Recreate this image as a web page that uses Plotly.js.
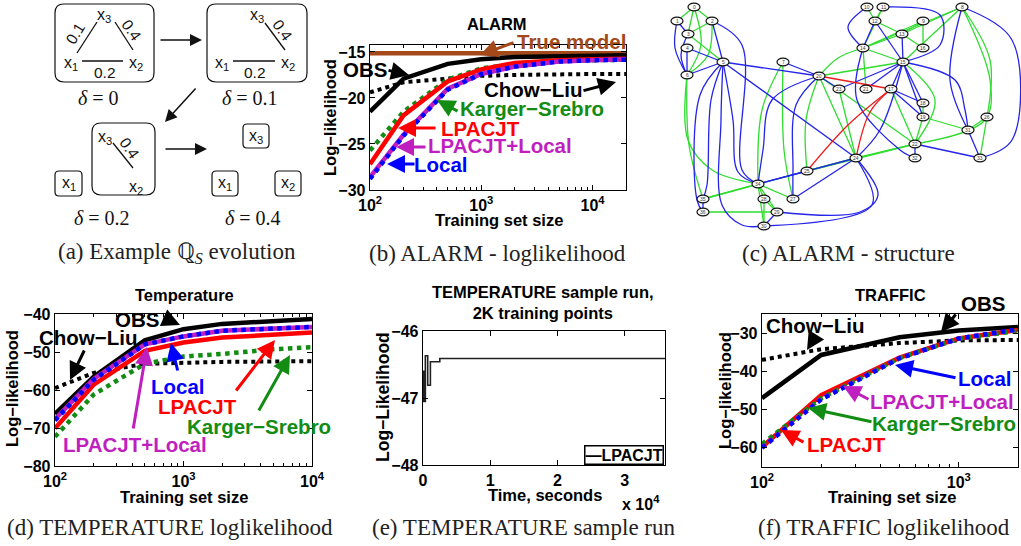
<!DOCTYPE html>
<html><head><meta charset="utf-8">
<script src="https://cdn.plot.ly/plotly-3.0.1.min.js"></script>
<style>html,body{margin:0;padding:0;background:#fff;overflow:hidden}#chart{width:1021px;height:546px}</style>
</head><body><div id="chart"></div>
<script>
// ---------------- DATA ----------------
// (b) ALARM log-likelihood vs training set size
const alarmSizes = [100, 200, 500, 1000, 2000, 5000, 10000, 20000];
const alarmTrueModel = [-15.15, -15.15, -15.15, -15.15, -15.15, -15.15, -15.15, -15.15];
const alarmOBS = [-21.5, -17.9, -16.3, -15.8, -15.55, -15.45, -15.4, -15.35];
const alarmChowLiu = [-19.4, -18.3, -17.9, -17.6, -17.5, -17.4, -17.4, -17.4];
const alarmKargerSrebro = [-25.7, -21.5, -18.0, -16.8, -16.3, -16.0, -15.9, -15.85];
const alarmLPACJT = [-27.2, -21.9, -18.2, -16.9, -16.2, -15.9, -15.8, -15.75];
const alarmLPACJTLocal = [-28.6, -24.0, -19.0, -17.4, -16.6, -16.05, -15.9, -15.8];
const alarmLocal = [-28.8, -24.1, -19.1, -17.4, -16.6, -16.05, -15.9, -15.85];

// (d) TEMPERATURE log-likelihood
const tempSizes = [100, 200, 500, 1000, 2000, 5000, 10000];
const tempOBS = [-66.3, -56.5, -46.9, -44.0, -42.6, -41.8, -41.3];
const tempChowLiu = [-59.5, -55.5, -53.1, -52.8, -52.6, -52.5, -52.4];
const tempKargerSrebro = [-72.3, -61.2, -53.1, -51.2, -50.5, -49.3, -48.7];
const tempLPACJT = [-70.1, -58.6, -49.7, -47.5, -46.2, -45.3, -44.9];
const tempLPACJTLocal = [-67.7, -57.1, -48.0, -45.9, -44.4, -43.7, -43.4];
const tempLocal = [-68.0, -57.3, -48.0, -45.9, -44.4, -43.7, -43.4];

// (e) TEMPERATURE sample run (step curve)
const runTime = [0, 60, 150, 350, 700, 1100, 2500, 36000];
const runLogLik = [-47.05, -46.6, -47.05, -46.37, -46.81, -46.46, -46.41, -46.41];

// (f) TRAFFIC log-likelihood
const trafSizes = [100, 200, 500, 1000, 2000];
const trafOBS = [-47.0, -35.7, -31.1, -29.3, -28.4];
const trafChowLiu = [-37.0, -34.2, -32.6, -31.9, -31.8];
const trafKargerSrebro = [-59.0, -47.0, -36.5, -31.5, -29.4];
const trafLPACJT = [-59.8, -46.2, -36.4, -31.4, -29.2];
const trafLPACJTLocal = [-59.9, -47.2, -36.5, -31.4, -29.1];
const trafLocal = [-60.0, -47.3, -36.6, -31.4, -29.0];

// (c) ALARM structure graph
const gNodeLabels = ['0','1','2','3','4','5','6','7','10','11','12','9','13','14','16','8','15','20','23','21','17','18','19','26','31','22','24','32','33','25','34','35','28','27','36','29','30'];
const gNodeX = [694,677,712,688,687,723,687,783,867,883,875,923,902,863,923,962,903,819,839,866,891,923,923,987,968,915,856,915,980,807,758,703,764,793,703,777,764];
const gNodeY = [7,21,21,34,48,62,75,62,7,7,21,21,34,48,48,7,62,76,89,89,89,103,117,117,130,144,158,158,158,171,184,199,199,199,212,212,226];
const gEdges = [
 ['0','1','g'],['0','2','g'],['0','3','g'],['0','6','g',[[701,45]]],
 ['1','3','b'],['1','6','b',[[675,48]]],
 ['2','3','g'],['2','6','g',[[708,55]]],['2','5','b'],['2','34','b',[[742,45],[742,170]]],
 ['3','5','g'],['3','6','b',[[681,55]]],
 ['4','6','b'],['4','5','b'],['5','6','b'],
 ['5','20','b'],['5','24','b'],
 ['5','34','b',[[733,120],[738,172]]],
 ['5','35','b',[[711,100],[707,185]]],
 ['5','36','b',[[700,95],[697,200]]],
 ['5','30','b',[[721,120],[722,205],[742,225]]],
 ['6','35','g',[[689,145]]],
 ['6','34','g',[[688,140],[712,170]]],
 ['7','20','b'],['7','27','g',[[784,150]]],['7','34','g',[[762,110]]],
 ['20','34','b',[[772,100],[763,150]]],
 ['20','27','b',[[796,105],[793,170]]],
 ['20','25','g',[[806,120]]],
 ['20','24','g'],['20','22','g'],['20','17','r'],['20','23','b'],['20','15','g'],['20','14','g',[[838,58]]],
 ['17','25','r',[[848,125]]],['17','24','r',[[870,112]]],
 ['15','14','g'],['15','13','b'],['15','12','b'],['15','8','g'],['15','17','b'],['15','18','b'],['15','19','b'],
 ['15','22','g',[[935,100]]],['15','24','b',[[880,130]]],['15','31','b',[[955,80],[965,110]]],['15','21','b'],['15','23','b'],
 ['14','10','b',[[848,27]]],['14','12','b'],['14','11','g'],['14','13','g'],['14','9','g'],['14','8','g'],['14','21','g'],
 ['14','32','b',[[857,100],[900,150]]],
 ['11','15','b',[[940,15],[940,45]]],
 ['12','11','g'],['12','13','g'],['12','10','g'],
 ['9','13','g'],['9','16','g'],['13','16','g'],['8','13','g'],
 ['8','22','g',[[990,80],[985,120]]],['8','31','b',[[950,80]]],['8','26','g',[[990,60]]],['8','33','b',[[1012,40],[1012,140]]],
 ['17','18','b'],['17','19','b'],['17','22','g'],
 ['18','19','g'],['19','22','g'],['19','31','g'],
 ['26','31','g'],['26','33','g'],['31','33','b'],
 ['22','32','b'],['22','33','b'],['22','24','g'],['22','25','g'],
 ['24','25','g'],['24','34','b'],['24','35','g'],['24','29','b',[[878,195],[860,212]]],['24','30','b',[[872,205]]],['24','27','b'],
 ['34','35','g'],['34','28','g'],['34','27','g'],['34','30','g'],['34','29','g'],['34','25','b'],
 ['28','29','g'],['28','30','g'],['29','30','b'],['36','29','g'],['35','36','b'],['23','24','g']
];

// (a) diagram: example Q_S evolution
const diagBoxes = [[55,4,154,82],[207,4,307,82],[92,123,155,195],[55,171,82,196],[243,124,269,148],[212,171,238,196],[275,171,301,196]];
const diagVarLabels = [['x<sub>3</sub>',104,15],['x<sub>1</sub>',71,63],['x<sub>2</sub>',136,63],['x<sub>3</sub>',257,15],['x<sub>1</sub>',222,63],['x<sub>2</sub>',288,63],['x<sub>3</sub>',105,137],['x<sub>2</sub>',136,187],['x<sub>1</sub>',69,183],['x<sub>3</sub>',256,136],['x<sub>1</sub>',225,183],['x<sub>2</sub>',288,183]];
const diagEdges = [[77,53,97,22],[115,22,133,50],[82,61,123,61],[265,23,285,50],[233,61,275,61],[113,143,133,168]];
const diagWeights = [['0.1',75,33,-58],['0.4',132,30,55],['0.2',105,72,0],['0.4',283,30,55],['0.2',255,72,0],['0.4',130,148,55]];
const diagDeltas = [['<i>δ</i> = 0',98,98],['<i>δ</i> = 0.1',250,98],['<i>δ</i> = 0.2',102,218],['<i>δ</i> = 0.4',253,218]];
const diagArrows = [[159,40,202,40],[197,87,165,122],[164,149,207,149]];

const captions = [['(a) Example ℚ<sub><i>S</i></sub> evolution',177,253],['(b) ALARM - loglikelihood',497,253],['(c) ALARM - structure',848,253],
  ['(d) TEMPERATURE loglikelihood',170,527],['(e) TEMPERATURE sample run',524,527],['(f) TRAFFIC loglikelihood',884,527]];

// ---------------- HELPERS ----------------
const W = 1021, H = 546;
const px = v => v / W;
const py = v => 1 - v / H;
const SANS = 'Liberation Sans, Arial, Helvetica, sans-serif';
const SERIF = 'Liberation Serif, Times New Roman, serif';
const BLACK = '#000000', RED = '#ff0000', GREEN = '#128c12', BLUE = '#0000ff', MAGENTA = '#bf1fbf', BROWN = '#a3491a';

function series(x, y, xa, ya, color, width, dash, extra) {
  return Object.assign({type:'scatter', mode:'lines', x, y, xaxis:xa, yaxis:ya,
    line:{color, width, dash:dash||'solid'}, showlegend:false, hoverinfo:'skip'}, extra||{});
}
const LW = 4.5;
const traces = [];
// (b)
traces.push(series(alarmSizes, alarmChowLiu, 'x', 'y', BLACK, 4, 'dot'));
traces.push(series(alarmSizes, alarmTrueModel, 'x', 'y', BROWN, LW));
traces.push(series(alarmSizes, alarmOBS, 'x', 'y', BLACK, LW));
traces.push(series(alarmSizes, alarmKargerSrebro, 'x', 'y', GREEN, LW, 'dot'));
traces.push(series(alarmSizes, alarmLPACJT, 'x', 'y', RED, LW));
traces.push(series(alarmSizes, alarmLPACJTLocal, 'x', 'y', MAGENTA, LW));
traces.push(series(alarmSizes, alarmLocal, 'x', 'y', BLUE, LW, 'dot'));
// (d)
traces.push(series(tempSizes, tempChowLiu, 'x2', 'y2', BLACK, 4, 'dot'));
traces.push(series(tempSizes, tempOBS, 'x2', 'y2', BLACK, LW));
traces.push(series(tempSizes, tempKargerSrebro, 'x2', 'y2', GREEN, LW, 'dot'));
traces.push(series(tempSizes, tempLPACJT, 'x2', 'y2', RED, LW));
traces.push(series(tempSizes, tempLPACJTLocal, 'x2', 'y2', MAGENTA, LW));
traces.push(series(tempSizes, tempLocal, 'x2', 'y2', BLUE, LW, 'dot'));
// (e)
traces.push(series(runTime, runLogLik, 'x3', 'y3', '#222', 1.6, 'solid', {line:{color:'#222', width:1.6, shape:'hv'}}));
// (f)
traces.push(series(trafSizes, trafChowLiu, 'x4', 'y4', BLACK, 4, 'dot'));
traces.push(series(trafSizes, trafOBS, 'x4', 'y4', BLACK, LW));
traces.push(series(trafSizes, trafLPACJT, 'x4', 'y4', RED, LW));
traces.push(series(trafSizes, trafKargerSrebro, 'x4', 'y4', GREEN, LW, 'dot'));
traces.push(series(trafSizes, trafLPACJTLocal, 'x4', 'y4', MAGENTA, LW, 'dot'));
traces.push(series(trafSizes, trafLocal, 'x4', 'y4', BLUE, LW, 'dot'));

// (c) graph edges
const nodeIndex = {}; gNodeLabels.forEach((l, i) => nodeIndex[l] = i);
const edgeColors = {g:'#2fdc2f', b:'#2424ea', r:'#ee1c1c'};
['g','b','r'].forEach(c => {
  const ex = [], ey = [];
  gEdges.filter(e => e[2] === c).forEach(e => {
    const a = nodeIndex[e[0]], b = nodeIndex[e[1]];
    const pts = [[gNodeX[a], gNodeY[a]]].concat(e[3] || []).concat([[gNodeX[b], gNodeY[b]]]);
    pts.forEach(p => { ex.push(p[0]); ey.push(p[1]); });
    ex.push(null); ey.push(null);
  });
  traces.push({type:'scatter', mode:'lines', x:ex, y:ey, xaxis:'x5', yaxis:'y5', connectgaps:false,
    line:{color:edgeColors[c], width:1.3, shape:'spline', smoothing:1}, showlegend:false, hoverinfo:'skip', cliponaxis:false});
});

// ---------------- AXES ----------------
const tickFont = {family:SANS, size:16, color:BLACK, weight:'bold'};
const axBase = {showline:true, linecolor:BLACK, linewidth:1.3, mirror:'ticks', ticks:'inside', ticklen:5, tickwidth:1,
  tickcolor:BLACK, showgrid:false, zeroline:false, tickfont:tickFont, fixedrange:true};
const decLabels = {100:'10<sup>2</sup>', 1000:'10<sup>3</sup>', 10000:'10<sup>4</sup>'};
function logAxis(domain, lo, hi, majors, minors, anchor) {
  return Object.assign({}, axBase, {type:'log', domain, range:[Math.log10(lo), Math.log10(hi)], anchor,
    tickmode:'array', tickvals:majors, ticktext:majors.map(v => decLabels[v]),
    minor:{tickmode:'array', tickvals:minors, ticks:'inside', ticklen:3, tickcolor:BLACK, tickwidth:1, showgrid:false}});
}
function linAxis(domain, range, tickvals, anchor, ticktext) {
  const o = Object.assign({}, axBase, {domain, range, anchor, tickmode:'array', tickvals});
  if (ticktext) o.ticktext = ticktext;
  return o;
}
const minors1 = [200,300,400,500,600,700,800,900,2000,3000,4000,5000,6000,7000,8000,9000,20000];
const hidden = (domain, range, anchor) => ({domain, range, anchor, visible:false, fixedrange:true});

const layout = {
  width:W, height:H, margin:{l:0, r:0, t:0, b:0}, paper_bgcolor:'#ffffff', plot_bgcolor:'rgba(0,0,0,0)', showlegend:false,
  xaxis: logAxis([px(370), px(626)], 100, 20000, [100,1000,10000], minors1, 'y'),
  yaxis: linAxis([py(190), py(45)], [-30, -14.25], [-30,-25,-20,-15], 'x'),
  xaxis2: logAxis([px(55), px(312)], 100, 10000, [100,1000,10000], minors1, 'y2'),
  yaxis2: linAxis([py(466), py(314)], [-80, -40], [-80,-70,-60,-50,-40], 'x2'),
  xaxis3: linAxis([px(423), px(665)], [0, 36000], [0,10000,20000,30000], 'y3', ['0','1','2','3']),
  yaxis3: linAxis([py(465), py(331)], [-48, -46], [-48,-47,-46], 'x3'),
  xaxis4: logAxis([px(762), px(1018)], 100, 2000, [100,1000], [200,300,400,500,600,700,800,900,2000], 'y4'),
  yaxis4: linAxis([py(467), py(314)], [-65, -25], [-60,-50,-40,-30], 'x4'),
  xaxis5: hidden([px(650), 1], [650, 1021], 'y5'),
  yaxis5: hidden([py(240), 1], [240, 0], 'x5'),
  xaxis6: hidden([0, px(320)], [0, 320], 'y6'),
  yaxis6: hidden([py(270), 1], [270, 0], 'x6'),
  shapes: [], annotations: []
};

// ---------------- ANNOTATIONS ----------------
const ann = layout.annotations, shp = layout.shapes;
function lab(text, x, y, color, size, extra) {
  ann.push(Object.assign({xref:'paper', yref:'paper', x:px(x), y:py(y), text, showarrow:false, xanchor:'center', yanchor:'middle',
    font:{family:SANS, size:size||20.5, color:color||BLACK, weight:'bold'}}, extra||{}));
}
function arr(tx, ty, hx, hy, color) {
  ann.push({xref:'paper', yref:'paper', x:px(hx), y:py(hy), ax:tx-hx, ay:ty-hy, axref:'pixel', ayref:'pixel', text:'',
    showarrow:true, arrowhead:2, arrowsize:1.2, arrowwidth:3, arrowcolor:color||BLACK});
}
// (b)
lab('ALARM', 497, 24, BLACK, 16.5);
lab('Log−likelihood', 330, 118, BLACK, 16.5, {textangle:-90});
lab('Training set size', 499, 220, BLACK, 16.5);
lab('True model', 571, 42, BROWN); arr(515, 42, 480, 55, BROWN);
lab('OBS', 365, 69); arr(387, 70, 409, 75);
lab('Chow−Liu', 533, 90); arr(582, 91, 616, 82);
lab('Karger−Srebro', 532, 109, GREEN); arr(459, 112, 437, 100, GREEN);
lab('LPACJT', 480, 128, RED); arr(437, 128, 398, 128, RED);
lab('LPACJT+Local', 500, 146, MAGENTA); arr(427, 147, 396, 147, MAGENTA);
lab('Local', 441, 164, BLUE); arr(416, 164, 387, 164, BLUE);
// (d)
lab('Temperature', 184, 295, BLACK, 16.5);
lab('Log−likelihood', 12, 389, BLACK, 16.5, {textangle:-90});
lab('Training set size', 184, 497, BLACK, 16.5);
lab('OBS', 137, 319); arr(162, 317, 180, 325);
lab('Chow−Liu', 88, 337); arr(85, 349, 70, 380);
lab('Local', 178, 386, BLUE); arr(178, 372, 171, 343, BLUE);
lab('LPACJT', 197, 406, RED); arr(235, 392, 275, 340, RED);
lab('Karger−Srebro', 259, 426, GREEN); arr(258, 412, 290, 355, GREEN);
lab('LPACJT+Local', 135, 444, MAGENTA); arr(133, 430, 147, 347, MAGENTA);
// (e)
lab('TEMPERATURE sample run,<br>2K training points', 543, 302, BLACK, 16.5);
lab('Log−Likelihood', 383, 397, BLACK, 17.5, {textangle:-90});
lab('Time, seconds', 545, 495, BLACK, 16.5);
lab('x 10<sup>4</sup>', 641, 503, BLACK, 16);
lab('—LPACJT', 624, 455, BLACK, 16, {bordercolor:BLACK, borderwidth:1.5, borderpad:0, bgcolor:'#ffffff'});
// (f)
lab('TRAFFIC', 890, 295, BLACK, 16.5);
lab('Log−likelihood', 725, 391, BLACK, 16.5, {textangle:-90});
lab('Training set size', 892, 497, BLACK, 16.5);
lab('OBS', 983, 303); arr(957, 313, 941, 332);
lab('Chow−Liu', 815, 325); arr(815, 337, 807, 350);
lab('Local', 985, 378, BLUE); arr(957, 378, 895, 365, BLUE);
lab('LPACJT+Local', 942, 401, MAGENTA); arr(870, 400, 843, 386, MAGENTA);
lab('Karger−Srebro', 944, 423, GREEN); arr(873, 422, 808, 408, GREEN);
lab('LPACJT', 846, 444, RED); arr(805, 443, 781, 430, RED);

// (c) nodes
gNodeLabels.forEach((l, i) => {
  shp.push({type:'circle', xref:'x5', yref:'y5', x0:gNodeX[i]-6, x1:gNodeX[i]+6, y0:gNodeY[i]-3.8, y1:gNodeY[i]+3.8,
    fillcolor:'#ffffff', line:{color:'#111', width:1.2}, layer:'above'});
  ann.push({xref:'x5', yref:'y5', x:gNodeX[i], y:gNodeY[i], text:l, showarrow:false, font:{family:SANS, size:5, color:'#333'}});
});

// (a) diagram
function rrect(b, r) {
  const [x0, y0, x1, y1] = b;
  return `M${x0+r},${y0} L${x1-r},${y0} Q${x1},${y0} ${x1},${y0+r} L${x1},${y1-r} Q${x1},${y1} ${x1-r},${y1} L${x0+r},${y1} Q${x0},${y1} ${x0},${y1-r} L${x0},${y0+r} Q${x0},${y0} ${x0+r},${y0} Z`;
}
diagBoxes.forEach(b => {
  const r = (b[2]-b[0]) > 40 ? 9 : 4;
  shp.push({type:'path', xref:'x6', yref:'y6', path:rrect(b, r), line:{color:'#111', width:1.2}});
});
diagEdges.forEach(e => shp.push({type:'line', xref:'x6', yref:'y6', x0:e[0], y0:e[1], x1:e[2], y1:e[3], line:{color:'#111', width:1.3}}));
diagVarLabels.forEach(t => ann.push({xref:'x6', yref:'y6', x:t[1], y:t[2], text:t[0], showarrow:false, font:{family:SANS, size:16, color:'#111'}}));
diagWeights.forEach(t => ann.push({xref:'x6', yref:'y6', x:t[1], y:t[2], text:t[0], textangle:t[3], showarrow:false, font:{family:SANS, size:15.5, color:'#111'}}));
diagDeltas.forEach(t => ann.push({xref:'x6', yref:'y6', x:t[1], y:t[2], text:t[0], showarrow:false, font:{family:SERIF, size:20, color:'#111'}}));
diagArrows.forEach(a => ann.push({xref:'x6', yref:'y6', x:a[2], y:a[3], ax:a[0]-a[2], ay:a[1]-a[3], axref:'pixel', ayref:'pixel', text:'',
  showarrow:true, arrowhead:2, arrowsize:1.6, arrowwidth:1.5, arrowcolor:'#111'}));

// captions
captions.forEach(c => ann.push({xref:'paper', yref:'paper', x:px(c[1]), y:py(c[2]), text:c[0], showarrow:false, xanchor:'center', yanchor:'middle',
  font:{family:SERIF, size:23, color:'#222'}}));

Plotly.newPlot('chart', traces, layout, {displayModeBar:false, staticPlot:true});
</script></body></html>
